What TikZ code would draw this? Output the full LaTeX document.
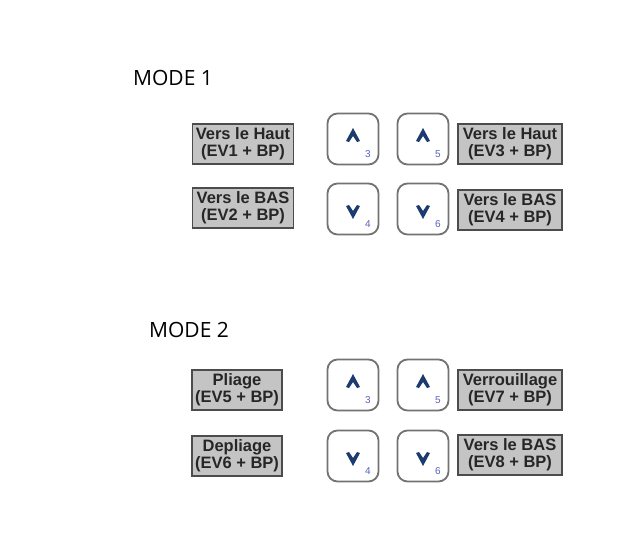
\documentclass[tikz,border=0pt]{standalone}
\usepackage{fontspec}
\setmainfont{Open Sans}
\newfontfamily\lblfont{Liberation Sans}
\definecolor{navy}{HTML}{1C3B6E}
\definecolor{digit}{HTML}{5563C0}
\definecolor{boxgray}{HTML}{C4C4C4}
\tikzset{
    lbl/.style={draw=black!70, fill=boxgray, line width=1.2pt, minimum width=101pt, minimum height=40pt,
        inner sep=1pt, align=center, text=black!85, font=\lblfont\bfseries\fontsize{16.5}{17}\selectfont},
    btn/.style={draw=black!55, line width=1.8pt, rounded corners=10pt, minimum size=51pt},
    num/.style={text=digit, font=\lblfont\fontsize{10}{10}\selectfont, inner sep=0pt},
    mode/.style={font=\fontsize{21}{21}\selectfont}
}
\begin{document}
\begin{tikzpicture}[x=1pt,y=-1pt]
    \useasboundingbox[fill=white] (0,0) rectangle (626,549);
    % mode 1
    \node[mode] (m1) at (173,78) {MODE 1};
    \node[lbl] (la) at (243,144) {Vers le Haut\\(EV1 + BP)};
    \node[lbl] (lb) at (243,208) {Vers le BAS\\(EV2 + BP)};
    \node[btn] (b3) at (353,139) {};
    \node[btn] (b4) at (353,209) {};
    \node[btn] (b5) at (423,139) {};
    \node[btn] (b6) at (423,209) {};
    \node[lbl, minimum width=104pt] (ra) at (510,144) {Vers le Haut\\(EV3 + BP)};
    \node[lbl, minimum width=104pt] (rb) at (510,210) {Vers le BAS\\(EV4 + BP)};
    % mode 2
    \node[mode] (m2) at (189,330) {MODE 2};
    \node[lbl, minimum width=90pt] (lc) at (237,390) {Pliage\\(EV5 + BP)};
    \node[lbl, minimum width=90pt] (ld) at (237,456) {Depliage\\(EV6 + BP)};
    \node[btn] (c3) at (353,385) {};
    \node[btn] (c4) at (353,456) {};
    \node[btn] (c5) at (423,385) {};
    \node[btn] (c6) at (423,456) {};
    \node[lbl, minimum width=104pt] (rc) at (510,390) {Verrouillage\\(EV7 + BP)};
    \node[lbl, minimum width=104pt] (rd) at (510,455) {Vers le BAS\\(EV8 + BP)};
    % chevrons
    \foreach \b in {b3,b5,c3,c5}
        \fill[navy, shift={(\b.center)}, yshift=3pt] (0,-8) -- (7,5) -- (4,6) -- (0,0) -- (-4,6) -- (-7,5) -- cycle;
    \foreach \b in {b4,b6,c4,c6}
        \fill[navy, shift={(\b.center)}, yshift=-2pt] (0,8) -- (7,-5) -- (4,-6) -- (0,0) -- (-4,-6) -- (-7,-5) -- cycle;
    \foreach \b/\n in {b3/3,b4/4,b5/5,b6/6,c3/3,c4/4,c5/5,c6/6}
        \node[num] at ([shift={(15,15)}]\b.center) {\n};
\end{tikzpicture}
\end{document}
